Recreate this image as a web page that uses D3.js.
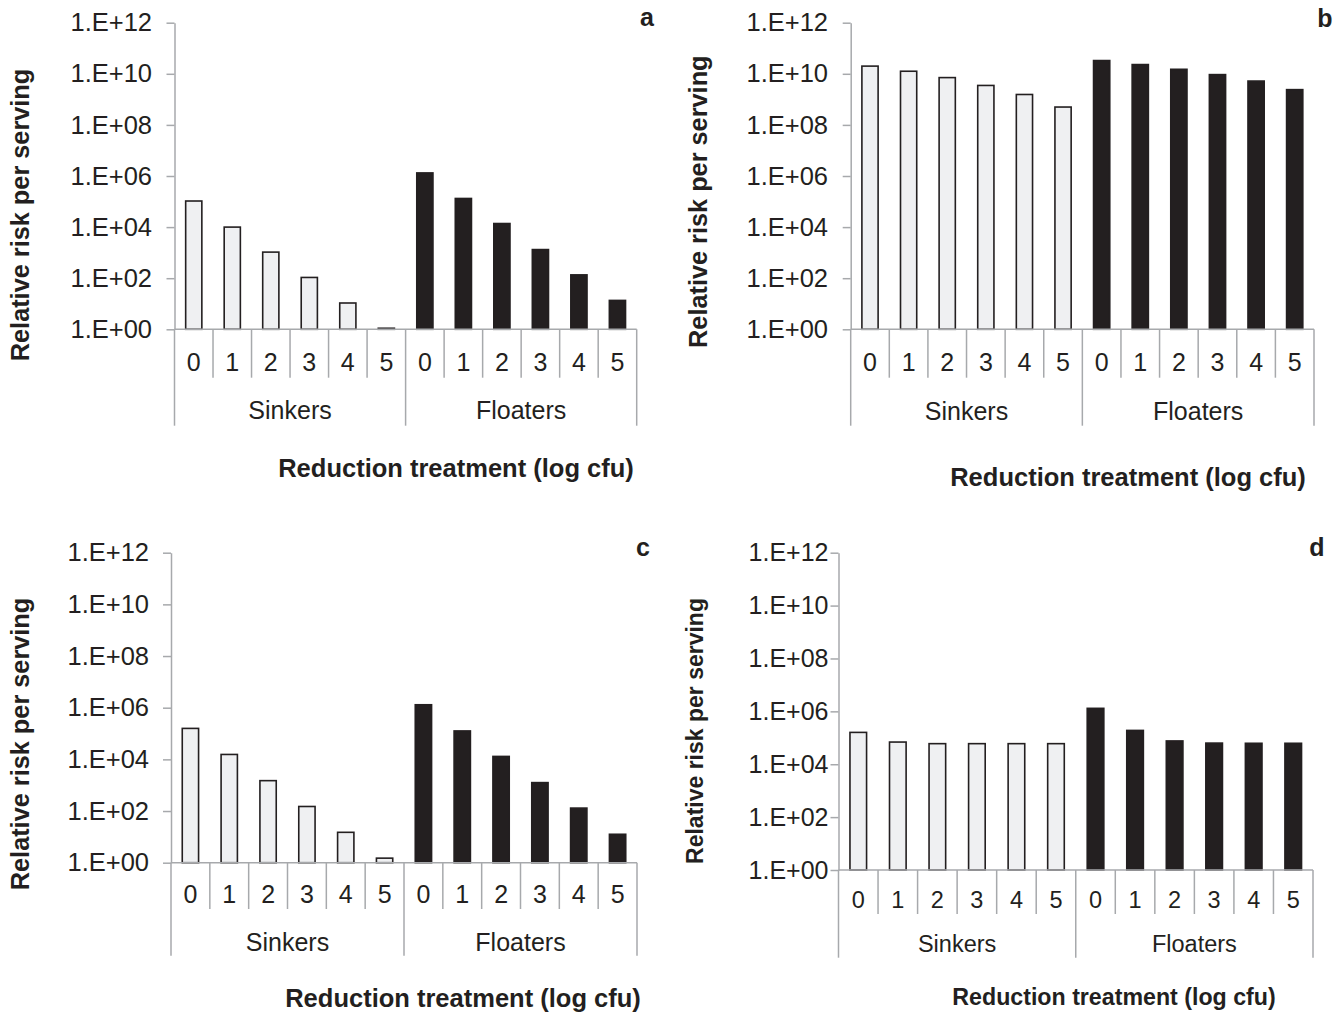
<!DOCTYPE html>
<html>
<head>
<meta charset="utf-8">
<script src="https://cdn.jsdelivr.net/npm/d3@7"></script>
<style>
  html, body { margin: 0; padding: 0; background: #ffffff; }
  svg { display: block; }
  text { font-family: "Liberation Sans", Arial, sans-serif; fill: #231f20; }
</style>
</head>
<body>
<svg id="chart" width="1341" height="1013"></svg>
<script>
// ---------------- data ----------------
const doses = ["0", "1", "2", "3", "4", "5"];
const groups = ["Sinkers", "Floaters"];
const tickValues = [1, 1e2, 1e4, 1e6, 1e8, 1e10, 1e12];
const tickLabels = ["1.E+00", "1.E+02", "1.E+04", "1.E+06", "1.E+08", "1.E+10", "1.E+12"];
const yTitle = "Relative risk per serving";
const xTitle = "Reduction treatment (log cfu)";
const panelLetters = ["a", "b", "c", "d"];

const sinkersA  = [1.05e5, 1.0e4, 1.05e3, 1.07e2, 10.7, 1.1];
const floatersA = [1.32e6, 1.32e5, 1.38e4, 1.32e3, 1.35e2, 13.5];

const sinkersB  = [2.0e10, 1.26e10, 7.1e9, 3.5e9, 1.55e9, 5.0e8];
const floatersB = [3.3e10, 2.3e10, 1.5e10, 9.3e9, 5.2e9, 2.4e9];

const sinkersC  = [1.58e5, 1.55e4, 1.5e3, 1.5e2, 15, 1.5];
const floatersC = [1.3e6, 1.26e5, 1.3e4, 1.26e3, 1.3e2, 12.6];

const sinkersD  = [1.6e5, 6.9e4, 6.0e4, 6.0e4, 6.0e4, 6.0e4];
const floatersD = [1.3e6, 1.9e5, 7.6e4, 6.3e4, 6.2e4, 6.2e4];

// ---------------- layout ----------------
const layouts = [
  {x0:174.5, x1:636.7, yTop:22.7, yBot:329.3, sepShort:377.7, sepLong:425.7, numY:361.7, grpY:410.3,
   titleX:456, titleY:468.3, yTitleX:20, yTitleY:215, letterX:647, letterY:26, pad:14.5,
   fsTick:25.5, fsNum:25, fsGrp:25, fsTitle:25.5, fsYTitle:25.3},
  {x0:850.7, x1:1314, yTop:22.7, yBot:329.3, sepShort:377.7, sepLong:425.7, numY:361.7, grpY:410.7,
   titleX:1128, titleY:477.3, yTitleX:698, yTitleY:201.7, letterX:1325, letterY:26.7, pad:14.7,
   fsTick:25.5, fsNum:25, fsGrp:25, fsTitle:25.5, fsYTitle:25.3},
  {x0:171, x1:637, yTop:552.7, yBot:862.7, sepShort:909, sepLong:955.7, numY:894.3, grpY:941.7,
   titleX:463, titleY:998.3, yTitleX:20, yTitleY:744, letterX:643, letterY:556, pad:14,
   fsTick:25.5, fsNum:25, fsGrp:25, fsTitle:25.5, fsYTitle:25.3},
  {x0:838.5, x1:1313, yTop:552.7, yBot:870, sepShort:914, sepLong:957.7, numY:900, grpY:944,
   titleX:1114, titleY:996.7, yTitleX:695, yTitleY:731, letterX:1317, letterY:556, pad:2,
   fsTick:25, fsNum:23.5, fsGrp:23.5, fsTitle:23.2, fsYTitle:23}
];

const seriesSets = [
  [sinkersA, floatersA],
  [sinkersB, floatersB],
  [sinkersC, floatersC],
  [sinkersD, floatersD]
];

const AXIS = "#a7a9ac";
const INK = "#231f20";
const LIGHT = "#eff0f2";

const svg = d3.select("#chart");

layouts.forEach((L, pi) => {
  const g = svg.append("g");
  const [sink, flo] = seriesSets[pi];

  const cats = [];
  groups.forEach(gr => doses.forEach(d => cats.push(gr + "|" + d)));
  const values = sink.concat(flo);
  const rows = cats.map((c, i) => ({cat: c, group: c.split("|")[0], dose: c.split("|")[1], value: values[i]}));

  const x = d3.scaleBand().domain(cats).range([L.x0, L.x1]).paddingInner(0.58).paddingOuter(0.29);
  const y = d3.scaleLog().domain([1, 1e12]).range([L.yBot, L.yTop]);
  const step = x.step();

  // bars
  g.selectAll("rect.bar").data(rows).enter().append("rect")
    .attr("class", "bar")
    .attr("x", d => x(d.cat))
    .attr("width", x.bandwidth())
    .attr("y", d => y(d.value))
    .attr("height", d => Math.max(0, y(1) - y(d.value)))
    .attr("fill", d => d.group === groups[0] ? LIGHT : INK)
    .attr("stroke", INK)
    .attr("stroke-width", 1.6);

  // y axis
  const yAxis = d3.axisLeft(y)
    .tickValues(tickValues)
    .tickFormat((d, i) => tickLabels[i])
    .tickSize(8)
    .tickSizeOuter(0)
    .tickPadding(L.pad);
  const ya = g.append("g").attr("transform", `translate(${L.x0},0)`).call(yAxis);
  ya.select(".domain").attr("stroke", AXIS).attr("stroke-width", 1.5);
  ya.selectAll(".tick line").attr("stroke", AXIS).attr("stroke-width", 1.5);
  ya.selectAll(".tick text")
    .attr("fill", INK)
    .style("font-family", '"Liberation Sans", Arial, sans-serif')
    .style("font-size", L.fsTick + "px");

  // x axis baseline
  g.append("line")
    .attr("x1", L.x0).attr("x2", L.x1)
    .attr("y1", y(1)).attr("y2", y(1))
    .attr("stroke", AXIS).attr("stroke-width", 1.5);

  // separators
  const nCat = cats.length;
  for (let k = 0; k <= nCat; k++) {
    const xx = L.x0 + k * step;
    const isGroup = (k % doses.length === 0);
    g.append("line")
      .attr("x1", xx).attr("x2", xx)
      .attr("y1", y(1)).attr("y2", isGroup ? L.sepLong : L.sepShort)
      .attr("stroke", AXIS).attr("stroke-width", 1.5);
  }

  // dose labels
  g.selectAll("text.dose").data(rows).enter().append("text")
    .attr("class", "dose")
    .attr("x", d => x(d.cat) + x.bandwidth() / 2)
    .attr("y", L.numY)
    .attr("text-anchor", "middle")
    .attr("dominant-baseline", "central")
    .style("font-size", L.fsNum + "px")
    .text(d => d.dose);

  // group labels
  groups.forEach((gr, gi) => {
    const cx = L.x0 + (gi * doses.length + doses.length / 2) * step;
    g.append("text")
      .attr("x", cx).attr("y", L.grpY)
      .attr("text-anchor", "middle")
      .attr("dominant-baseline", "central")
      .style("font-size", L.fsGrp + "px")
      .text(gr);
  });

  // x title
  g.append("text")
    .attr("x", L.titleX).attr("y", L.titleY)
    .attr("text-anchor", "middle")
    .attr("dominant-baseline", "central")
    .style("font-size", L.fsTitle + "px")
    .style("font-weight", "bold")
    .text(xTitle);

  // y title
  g.append("text")
    .attr("transform", `translate(${L.yTitleX},${L.yTitleY}) rotate(-90)`)
    .attr("text-anchor", "middle")
    .attr("dominant-baseline", "central")
    .style("font-size", L.fsYTitle + "px")
    .style("font-weight", "bold")
    .text(yTitle);

  // panel letter
  g.append("text")
    .attr("x", L.letterX).attr("y", L.letterY)
    .attr("text-anchor", "middle")
    .style("font-size", "25px")
    .style("font-weight", "bold")
    .text(panelLetters[pi]);
});
</script>
</body>
</html>
